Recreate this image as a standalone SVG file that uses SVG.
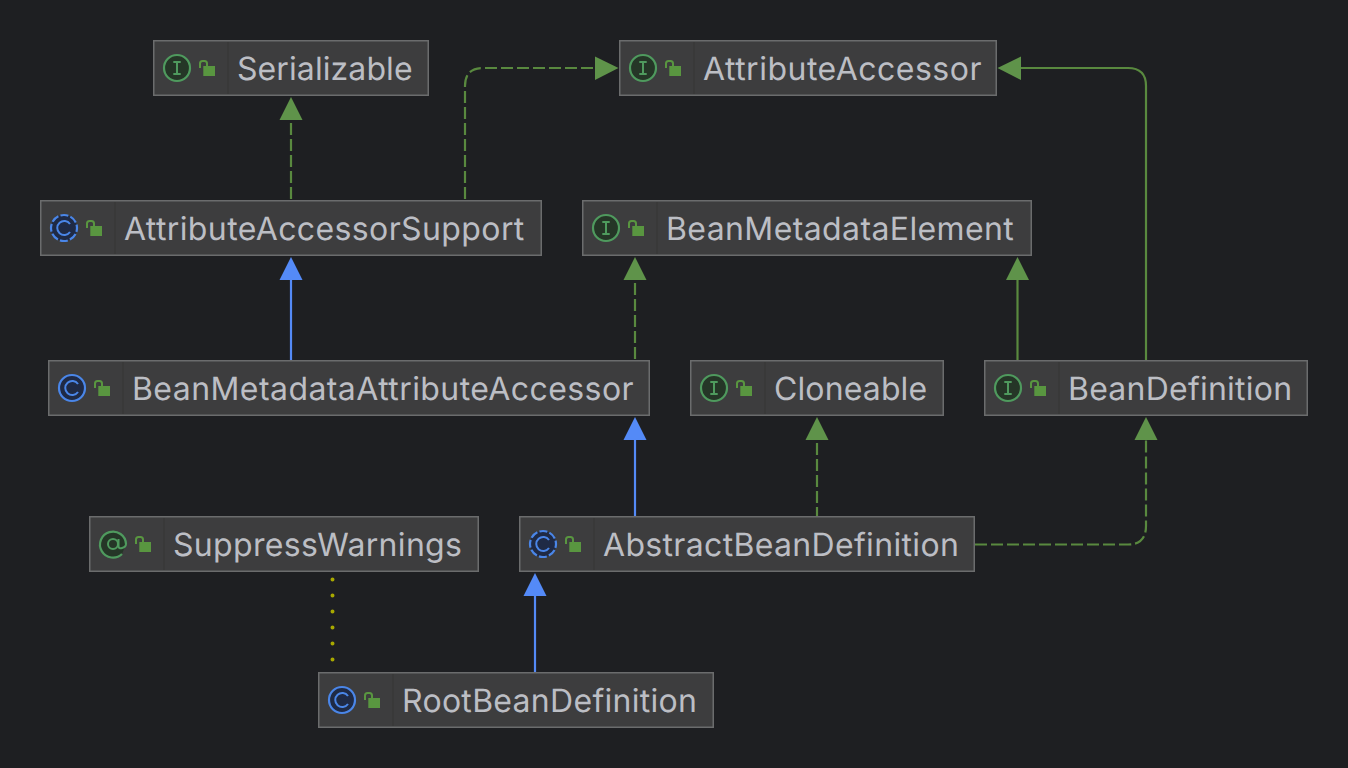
<svg xmlns="http://www.w3.org/2000/svg" width="1348" height="768" viewBox="0 0 1348 768">
<style>
.box{fill:#3d3d3e;stroke:#6b6c6d;stroke-width:1.5}
.div{stroke:#383839;stroke-width:1.5}
.t{font-family:Inter,"Liberation Sans",sans-serif;font-size:32px;fill:#bcbec4;text-rendering:geometricPrecision}
.g{fill:none;stroke:#59893f;stroke-width:2.2}
.b{fill:none;stroke:#548af7;stroke-width:2.2}
.d{stroke-dasharray:12 4}
.y{fill:none;stroke:#a8a800;stroke-width:4;stroke-linecap:round;stroke-dasharray:0 16}
.ah{fill:#5f934a}
.ab{fill:#548af7}
.ig{fill:#253627;stroke:#4f9a5e;stroke-width:2.2}
.ib{fill:#1f2a45;stroke:#4a86e8;stroke-width:2.2}
.gl{fill:none;stroke:#4f9a5e;stroke-width:2}
.bl{fill:none;stroke:#4a86e8;stroke-width:2}
</style>
<defs>
<g id="lock"><rect x="50.300" y="26" width="11.700" height="10" fill="#599640"/><path d="M47 28V23.500Q47 21 49.500 21H51.500Q54 21 54 23.500V26.500" fill="none" stroke="#599640" stroke-width="2"/></g>
<g id="ii"><circle cx="24" cy="28" r="13" class="ig"/><path d="M20.300 22H27.700M24 22V34M20.300 34H27.700" class="gl"/></g>
<g id="ic"><circle cx="24" cy="28" r="13" class="ib"/><path d="M30 24A7 7 0 1 0 30 32" class="bl"/></g>
<g id="ica"><circle cx="24" cy="28" r="13" class="ib" stroke-dasharray="8 2.210" stroke-dashoffset="4"/><path d="M30 24A7 7 0 1 0 30 32" class="bl"/></g>
<g id="ia"><path d="M33 38A13 13 0 1 1 37 28" class="ig"/><circle cx="24" cy="28" r="5" class="gl"/><path d="M29.500 23V30.500Q30 33 33 32Q37 31 37 28" class="gl"/></g>
</defs>
<rect width="1348" height="768" fill="#1e1f22"/>
<g id="connectors">
<path class="g d" d="M291 123V200"/>
<path class="g d" d="M593 68H483Q465 68 465 86V200"/>
<path class="g" d="M1146 360V86Q1146 68 1128 68H1020"/>
<path class="b" d="M291 360V280"/>
<path class="g d" d="M635 283V360"/>
<path class="g" d="M1017.500 360V280"/>
<path class="b" d="M635 516V440"/>
<path class="g d" d="M817 443V516"/>
<path class="g d" d="M975 544.500H1128Q1146 544.500 1146 526V440"/>
<path class="b" d="M535 672V596"/>
<path class="y" d="M332.500 579.500V660"/>
<path class="ah" d="M279.500 120L291 97L302.500 120Z"/>
<path class="ah" d="M595 56.500L618.500 68L595 80Z"/>
<path class="ah" d="M1021 56.500L997.500 68L1021 80Z"/>
<path class="ab" d="M279.500 280L291 257L302.500 280Z"/>
<path class="ah" d="M623.500 280L635 257L646.500 280Z"/>
<path class="ah" d="M1006 280L1017.500 257L1029 280Z"/>
<path class="ab" d="M623.500 440L635 417L646.500 440Z"/>
<path class="ah" d="M805.500 440L817 417L828.500 440Z"/>
<path class="ah" d="M1134.500 440L1146 417L1157.500 440Z"/>
<path class="ab" d="M523.500 596L535 573L546.500 596Z"/>
</g>
<g id="Serializable" transform="translate(153 40)"><rect class="box" x="0.750" y="0.750" width="274.500" height="54.500"/><path class="div" d="M75 2V54"/><use href="#ii"/><use href="#lock"/><text class="t" x="84" y="40" letter-spacing="0.090">Serializable</text></g>
<g id="AttributeAccessor" transform="translate(619 40)"><rect class="box" x="0.750" y="0.750" width="376.500" height="54.500"/><path class="div" d="M75 2V54"/><use href="#ii"/><use href="#lock"/><text class="t" x="84" y="40" letter-spacing="0.500">AttributeAccessor</text></g>
<g id="AttributeAccessorSupport" transform="translate(40 200)"><rect class="box" x="0.750" y="0.750" width="500.500" height="54.500"/><path class="div" d="M75 2V54"/><use href="#ica"/><use href="#lock"/><text class="t" x="84" y="40" letter-spacing="0.390">AttributeAccessorSupport</text></g>
<g id="BeanMetadataElement" transform="translate(582 200)"><rect class="box" x="0.750" y="0.750" width="448.500" height="54.500"/><path class="div" d="M75 2V54"/><use href="#ii"/><use href="#lock"/><text class="t" x="84" y="40" letter-spacing="0.390">BeanMetadataElement</text></g>
<g id="BeanMetadataAttributeAccessor" transform="translate(48 360)"><rect class="box" x="0.750" y="0.750" width="600.500" height="54.500"/><path class="div" d="M75 2V54"/><use href="#ic"/><use href="#lock"/><text class="t" x="84" y="40" letter-spacing="0.430">BeanMetadataAttributeAccessor</text></g>
<g id="Cloneable" transform="translate(690 360)"><rect class="box" x="0.750" y="0.750" width="252.500" height="54.500"/><path class="div" d="M75 2V54"/><use href="#ii"/><use href="#lock"/><text class="t" x="84" y="40" letter-spacing="0.120">Cloneable</text></g>
<g id="BeanDefinition" transform="translate(984 360)"><rect class="box" x="0.750" y="0.750" width="322.500" height="54.500"/><path class="div" d="M75 2V54"/><use href="#ii"/><use href="#lock"/><text class="t" x="84" y="40" letter-spacing="0.230">BeanDefinition</text></g>
<g id="SuppressWarnings" transform="translate(89 516)"><rect class="box" x="0.750" y="0.750" width="388.500" height="54.500"/><path class="div" d="M75 2V54"/><use href="#ia"/><use href="#lock"/><text class="t" x="84" y="40" letter-spacing="0.330">SuppressWarnings</text></g>
<g id="AbstractBeanDefinition" transform="translate(519 516)"><rect class="box" x="0.750" y="0.750" width="454.500" height="54.500"/><path class="div" d="M75 2V54"/><use href="#ica"/><use href="#lock"/><text class="t" x="84" y="40" letter-spacing="0.330">AbstractBeanDefinition</text></g>
<g id="RootBeanDefinition" transform="translate(318 672)"><rect class="box" x="0.750" y="0.750" width="394.500" height="54.500"/><path class="div" d="M75 2V54"/><use href="#ic"/><use href="#lock"/><text class="t" x="84" y="40" letter-spacing="0.290">RootBeanDefinition</text></g>
</svg>
